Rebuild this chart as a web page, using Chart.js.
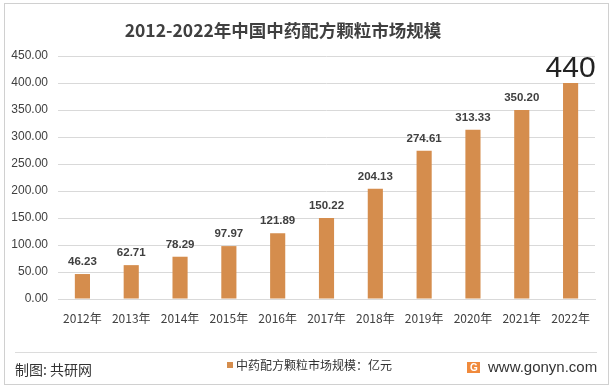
<!DOCTYPE html>
<html>
<head>
<meta charset="utf-8">
<script src="https://cdn.jsdelivr.net/npm/chart.js@4"></script>
<style>
  body { margin: 0; background: #fff; }
  #wrap { width: 613px; height: 390px; position: relative; }
</style>
</head>
<body>
<div id="wrap"><canvas id="grafico" width="613" height="390"></canvas></div>
<script>
// dados
const anos = ['2012年','2013年','2014年','2015年','2016年','2017年','2018年','2019年','2020年','2021年','2022年']
const valores = [46.23, 62.71, 78.29, 97.97, 121.89, 150.22, 204.13, 274.61, 313.33, 350.20, 400]
const rotulos = ['46.23','62.71','78.29','97.97','121.89','150.22','204.13','274.61','313.33','350.20','440']
const serie = '中药配方颗粒市场规模：亿元'
const titulo = '2012-2022年中国中药配方颗粒市场规模'

const cor = '#D58D4D'
const fonteNum = '"Liberation Sans", Arial, sans-serif'
const fonteCJK = '"Noto Sans CJK SC", sans-serif'

Chart.defaults.font.family = fonteNum
Chart.defaults.color = '#404040'

// desenha título, rótulos e rodapé
const extras = {
  id: 'extras',
  beforeDraw(chart) {
    const c = chart.ctx
    c.save()
    c.fillStyle = '#fff'
    c.fillRect(0, 0, chart.width, chart.height)
    c.strokeStyle = '#d0d0d0'
    c.lineWidth = 1
    c.strokeRect(4.5, 3.5, 604, 381)
    c.restore()
  },
  afterDraw(chart) {
    const c = chart.ctx
    c.save()
    // título
    c.font = 'bold 17.5px ' + fonteCJK
    c.fillStyle = '#404040'
    c.textAlign = 'center'
    c.textBaseline = 'middle'
    c.fillText(titulo, 283, 30)

    // rótulos das barras
    const meta = chart.getDatasetMeta(0)
    meta.data.forEach((bar, i) => {
      const ultimo = i === rotulos.length - 1
      c.font = ultimo ? '30px ' + fonteNum : 'bold 11.5px ' + fonteNum
      c.fillStyle = ultimo ? '#222' : '#404040'
      c.textBaseline = 'alphabetic'
      c.fillText(rotulos[i], bar.x, bar.y - (ultimo ? 6 : 9))
    })

    // rodapé
    c.strokeStyle = '#dcdcdc'
    c.beginPath()
    c.moveTo(15, 352.5)
    c.lineTo(597, 352.5)
    c.stroke()

    c.textAlign = 'left'
    c.textBaseline = 'middle'
    c.font = '14px ' + fonteCJK
    c.fillStyle = '#333'
    c.fillText('制图: 共研网', 15, 370)

    c.fillStyle = cor
    c.fillRect(227, 362, 6, 6)
    c.font = '12px ' + fonteCJK
    c.fillStyle = '#333'
    c.fillText(serie, 236, 365)

    // logo
    c.fillStyle = '#F08A3C'
    c.fillRect(467, 362, 13, 11)
    c.fillStyle = '#fff'
    c.font = 'bold 10px ' + fonteNum
    c.fillText('G', 470, 368)
    c.font = '15px ' + fonteNum
    c.fillStyle = '#333'
    c.fillText('www.gonyn.com', 488, 368)
    c.restore()
  }
}

const ctx = document.getElementById('grafico')

const graph = new Chart(ctx, {
  type: 'bar',
  data: {
    labels: anos,
    datasets: [{
      label: serie,
      data: valores,
      backgroundColor: cor,
      barPercentage: 0.62,
      categoryPercentage: 0.5
    }]
  },
  options: {
    responsive: false,
    animation: false,
    layout: { padding: { left: 4, top: 56, right: 18, bottom: 61 } },
    plugins: {
      legend: { display: false },
      tooltip: { enabled: false }
    },
    scales: {
      x: {
        grid: { display: false, drawTicks: false },
        border: { color: '#d9d9d9' },
        ticks: { padding: 12, font: { size: 12, family: fonteCJK }, color: '#404040' },
        afterFit(s) { s.height = 30 }
      },
      y: {
        min: 0,
        max: 450,
        ticks: {
          stepSize: 50,
          padding: 10,
          font: { size: 12 },
          color: '#404040',
          callback: v => v.toFixed(2)
        },
        grid: { color: '#d9d9d9', drawTicks: false },
        border: { display: false },
        afterFit(s) { s.width = 54 }
      }
    }
  },
  plugins: [extras]
})
</script>
</body>
</html>
